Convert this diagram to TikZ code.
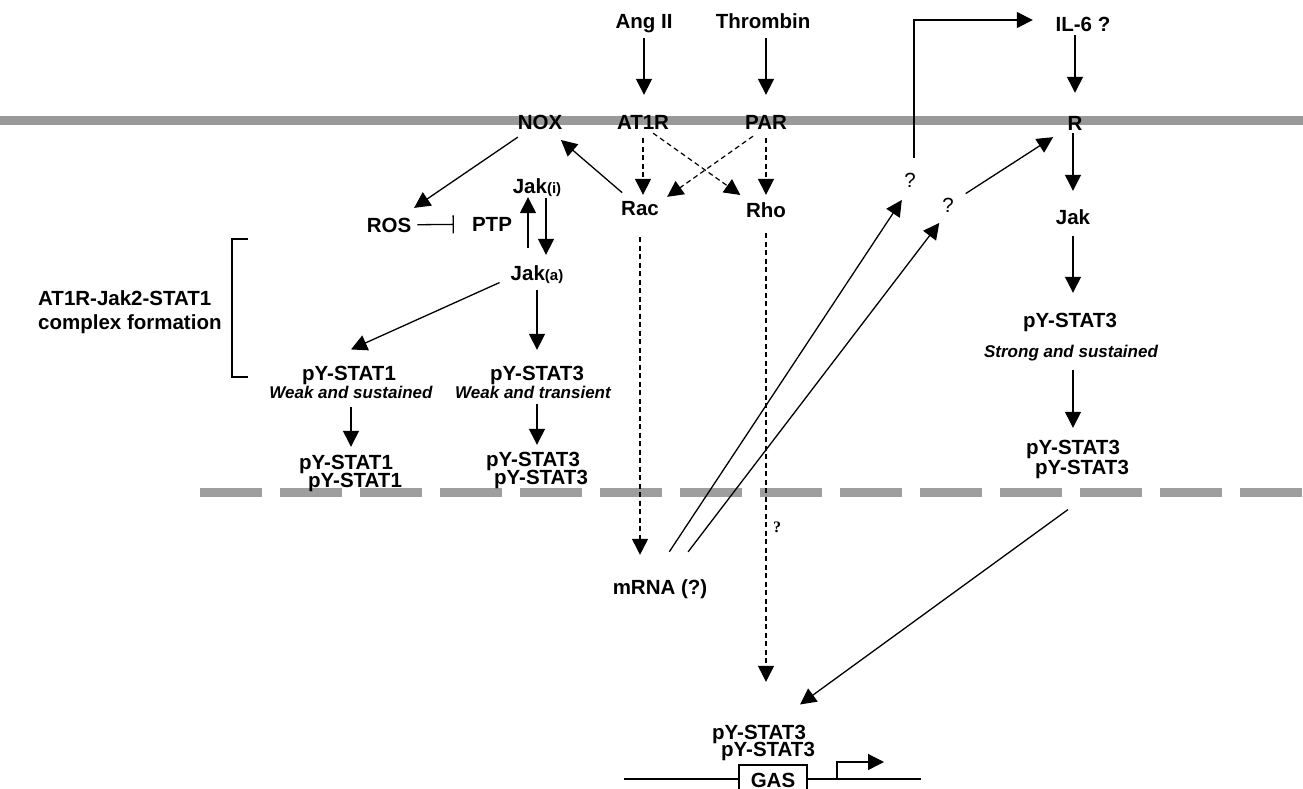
\documentclass[tikz,border=0pt]{standalone}
\usepackage{fontspec}
\setmainfont{Liberation Sans}
\newfontfamily\lserif{Liberation Serif}
\usetikzlibrary{arrows.meta,calc}
\begin{document}
\begin{tikzpicture}[x=1pt,y=-1pt,
  lab/.style={inner sep=0pt, text height=14.7pt, text depth=0pt, font=\bfseries\fontsize{20.5}{24}\selectfont},
  itl/.style={inner sep=0pt, text height=12pt, text depth=0pt, font=\bfseries\itshape\fontsize{17}{20}\selectfont},
  qm/.style={inner sep=0pt, text height=14.7pt, text depth=0pt, font=\fontsize{20.5}{24}\selectfont},
  arr/.style={line width=1.3pt, -{Triangle[length=16pt,width=16pt]}},
  darr/.style={arr, line width=1.2pt, dash pattern=on 5pt off 3.5pt},
  inh/.style={line width=1.3pt, -{Bar[width=18pt,line width=1.3pt]}},
  plain/.style={line width=1.2pt}]
\useasboundingbox (0,0) rectangle (1303,788);
\clip (0,0) rectangle (1303,788);
\fill[white] (0,0) rectangle (1303,788);
% membranes
\fill[black!40] (0,116) rectangle (1303,125);
\draw[black!38, line width=9pt, dash pattern=on 62pt off 18pt] (200,492) -- (1303,492);
% nodes
\node[lab] (angii) at (644,21) {Ang II};
\node[lab] (thr) at (763,21) {Thrombin};
\node[lab] (nox) at (540,122) {NOX};
\node[lab] (at1r) at (643,122) {AT1R};
\node[lab] (par) at (766,122) {PAR};
\node[lab] (rac) at (640,208) {Rac};
\node[lab] (rho) at (766,210) {Rho};
\node[lab] (ros) at (389,225) {ROS};
\node[lab] (ptp) at (492,224) {PTP};
\node[lab] (jaki) at (537,186) {Jak{\fontsize{15}{15}\selectfont(i)}};
\node[lab] (jaka) at (537,273) {Jak{\fontsize{15}{15}\selectfont(a)}};
\node[lab, anchor=west] (cx1) at (38,298) {AT1R-Jak2-STAT1};
\node[lab, anchor=west] (cx2) at (38,322) {complex formation};
\node[lab] (s1) at (349,373) {pY-STAT1};
\node[itl] (w1) at (351,392) {Weak and sustained};
\node[lab] (s3) at (537,373) {pY-STAT3};
\node[itl] (w3) at (533,392) {Weak and transient};
\node[lab] (p1a) at (346,462) {pY-STAT1};
\node[lab] (p1b) at (355,480) {pY-STAT1};
\node[lab] (p3a) at (533,459) {pY-STAT3};
\node[lab] (p3b) at (541,477) {pY-STAT3};
\node[lab] (il6) at (1083,24) {IL-6 ?};
\node[lab] (r) at (1075,123) {R};
\node[qm] (q1) at (910,180) {?};
\node[qm] (q2) at (948,205) {?};
\node[lab] (jak) at (1073,217) {Jak};
\node[lab] (s3r) at (1070,320) {pY-STAT3};
\node[itl] (strong) at (1071,351) {Strong and sustained};
\node[lab] (pra) at (1073,447) {pY-STAT3};
\node[lab] (prb) at (1082,467) {pY-STAT3};
\node[lab] (mrna) at (660,587) {mRNA (?)};
\node[inner sep=0pt, font=\lserif\bfseries\fontsize{16}{18}\selectfont] (qn) at (777,527) {?};
\node[lab] (pba) at (759,732) {pY-STAT3};
\node[lab] (pbb) at (768,749) {pY-STAT3};
% DNA and GAS
\coordinate (dnal) at (624,779);
\coordinate (dnar) at (921,779);
\draw[line width=1.3pt] (dnal) -- (dnar);
\node[lab, draw, line width=1.3pt, fill=white, minimum width=68pt, minimum height=30pt] (gas) at (773,780) {GAS};
\coordinate (tss) at (837,779);
\coordinate (tsst) at (884,762);
\draw[arr] (tss) |- (tsst);
% bracket
\draw[plain] (248,239) -- (232,239) -- (232,377) -- (248,377);
% connectors
\draw[arr, shorten <=9.6pt, shorten >=19.6pt] (angii) -- (angii |- at1r.north);
\draw[arr, shorten <=9.6pt, shorten >=19.6pt] (thr.south -| par) -- (par);
\draw[darr, shorten <=8.6pt, shorten >=5.6pt] (at1r) -- (at1r |- rac.north);
\draw[darr, shorten <=8.6pt, shorten >=7.6pt] (par) -- (rho);
\draw[darr, shorten <=6.3pt, shorten >=12.9pt] ([xshift=5pt]at1r.south) -- ([xshift=5pt]rho.north west);
\draw[darr, shorten <=11.5pt, shorten >=6.3pt] ([xshift=-3.6pt]par.south) -- ([xshift=3pt]rac.north east);
\draw[arr, shorten <=12pt, shorten >=16pt] (rac) -- (nox);
\draw[arr, shorten <=13.5pt, shorten >=17pt] (nox) -- (ros);
\draw[inh, shorten <=6pt, shorten >=18pt] (ros) -- (ptp);
\draw[arr, shorten <=17.6pt, shorten >=3.6pt] ([xshift=-9pt]jaka.north) -- ([xshift=-9pt]jaki.south);
\draw[arr, shorten <=4.6pt, shorten >=10.6pt] ([xshift=9pt]jaki.south) -- ([xshift=9pt]jaka.north);
\draw[arr] ($(jaka.south west)+(-11,2)$) -- ($(s1.north)+(2,-16)$);
\draw[arr, shorten <=9.6pt, shorten >=15.6pt] (jaka) -- (s3);
\draw[arr, shorten <=9pt, shorten >=7.65pt] (w1.south) -- (w1.south |- p1a.north);
\draw[arr, shorten <=6pt, shorten >=6.65pt] (s3 |- w3.south) -- (s3 |- p3a.north);
\draw[arr, shorten <=3.65pt, shorten >=22.65pt] (il6.south -| r) -- (r);
\draw[arr, shorten <=2.65pt, shorten >=18.65pt] (r.south -| jak) -- (jak);
\draw[arr, shorten <=11.65pt, shorten >=19.65pt] (jak) -- (jak |- s3r.north);
\draw[arr, shorten <=13pt, shorten >=11.65pt] (strong.south -| pra) -- (pra);
\draw[arr, shorten <=14pt, shorten >=17pt] (q2) -- (r);
\draw[arr, shorten <=14.65pt, shorten >=22.65pt] ([xshift=4pt]q1.north) |- ([yshift=4pt]il6.west);
\draw[arr, shorten <=33.2pt, shorten >=23.9pt] ([xshift=-9pt]mrna.north) -- ([xshift=5pt]q1.center);
\draw[arr, shorten <=34.8pt, shorten >=22.6pt] ([xshift=7pt]mrna.north) -- ([xshift=5pt]q2.center);
\draw[darr, shorten <=21.65pt, shorten >=24.65pt] (rac) -- (rac |- mrna.north);
\draw[darr, shorten <=15.65pt, shorten >=42.65pt] (rho) -- (rho |- pba.north);
\draw[arr] ($(prb.south)+(-14,35)$) -- ($(pba.north)+(41,-20)$);
\end{tikzpicture}
\end{document}
